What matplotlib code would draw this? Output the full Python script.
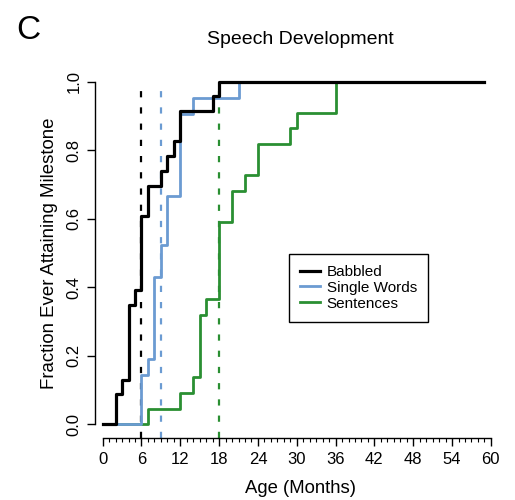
import numpy as np
import matplotlib.pyplot as plt
from matplotlib.ticker import FixedLocator

plt.rcParams['font.family'] = ['Liberation Sans', 'DejaVu Sans']

# cumulative fraction of children reaching each milestone (step changes)
babbled_age = [0, 2, 3, 4, 5, 6, 7, 9, 10, 11, 12, 17, 18, 59]
babbled_frac = [0, 0.087, 0.13, 0.348, 0.391, 0.609, 0.696, 0.739, 0.783, 0.826, 0.913, 0.957, 1.0, 1.0]

words_age = [0, 6, 7, 8, 9, 10, 12, 14, 21, 59]
words_frac = [0, 0.143, 0.19, 0.429, 0.524, 0.667, 0.905, 0.952, 1.0, 1.0]

sent_age = [0, 7, 12, 14, 15, 16, 18, 20, 22, 24, 29, 30, 36, 59]
sent_frac = [0, 0.045, 0.091, 0.136, 0.318, 0.364, 0.591, 0.682, 0.727, 0.818, 0.864, 0.909, 1.0, 1.0]

# median ages
medians = [6, 9, 18]

labels = ["Babbled", "Single Words", "Sentences"]
colors = ["black", "#6b9bd2", "#2a8f32"]

fig = plt.figure(figsize=(5.15, 5.0), dpi=100)
ax = fig.add_axes([0.1843, 0.1246, 0.799, 0.7394])

#dashed median lines
for m, c in zip(medians, colors):
    ax.plot([m, m], [-0.04, 1.0], color=c, lw=1.6, dashes=(2.8, 4.5), zorder=1)

ax.step(sent_age, sent_frac, where='post', color=colors[2], lw=2.0, label=labels[2], zorder=2)
ax.step(words_age, words_frac, where='post', color=colors[1], lw=2.0, label=labels[1], zorder=3)
ax.step(babbled_age, babbled_frac, where='post', color=colors[0], lw=2.3, label=labels[0], zorder=4)

ax.set_xlim(-1.2, 62.4)
ax.set_ylim(-0.04, 1.04)
for s in ['top', 'right']:
    ax.spines[s].set_visible(False)
ax.spines['bottom'].set_bounds(0, 60)
ax.spines['left'].set_bounds(0, 1)
ax.spines['bottom'].set_linewidth(1.0)
ax.spines['left'].set_linewidth(1.0)

ax.xaxis.set_major_locator(FixedLocator(np.arange(0, 61, 6)))
ax.xaxis.set_minor_locator(FixedLocator(np.arange(0, 61, 1)))
ax.set_yticks([0, 0.2, 0.4, 0.6, 0.8, 1.0])
ax.set_yticklabels(["0.0", "0.2", "0.4", "0.6", "0.8", "1.0"], rotation=90, va='center')
ax.tick_params(axis='x', which='major', length=5.5, width=1.0, labelsize=12, pad=5)
ax.tick_params(axis='x', which='minor', length=2.7, width=0.8)
ax.tick_params(axis='y', which='major', length=5.5, width=1.0, labelsize=12, pad=4)

ax.set_xlabel("Age (Months)", fontsize=13.3, labelpad=9)
ax.set_ylabel("Fraction Ever Attaining Milestone", fontsize=13.4, labelpad=6)
ax.set_title("Speech Development", fontsize=14, pad=17)
fig.text(0.032, 0.97, "C", fontsize=24, va='top', ha='left')

h, l = ax.get_legend_handles_labels()
order = [2, 1, 0]
leg = ax.legend([h[i] for i in order], [l[i] for i in order],
                loc='upper left', bbox_to_anchor=(289 / 515, 1 - 254 / 500),
                bbox_transform=fig.transFigure, fancybox=False, framealpha=1,
                edgecolor='black', fontsize=11, handlelength=1.3,
                handletextpad=0.45, labelspacing=0.12, borderpad=0.72, borderaxespad=0)
leg.get_frame().set_linewidth(1.0)

fig.savefig("out.png", dpi=100)
